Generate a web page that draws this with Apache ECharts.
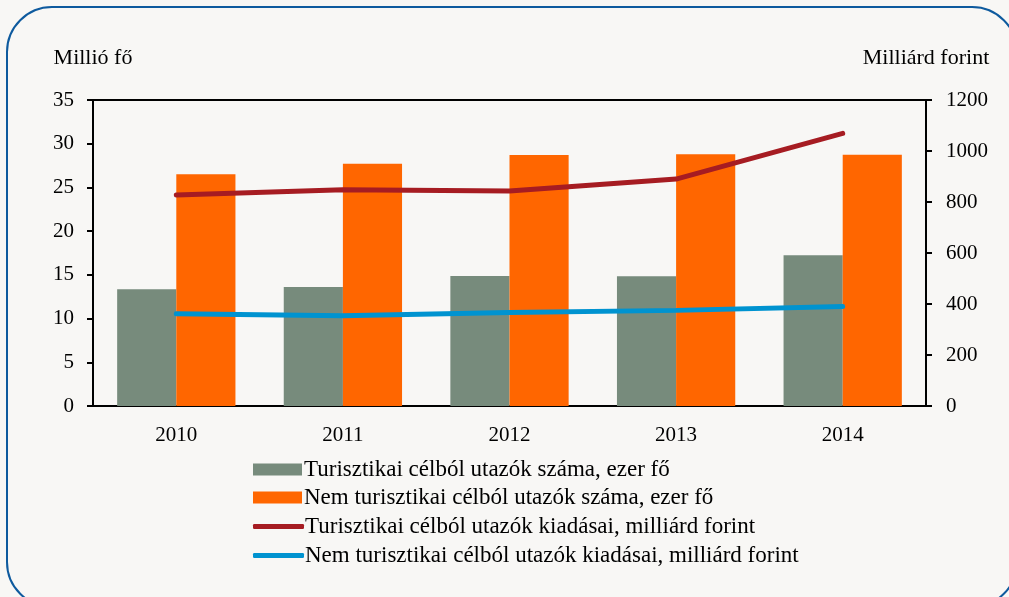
<!DOCTYPE html>
<html><head><meta charset="utf-8">
<script src="https://cdn.jsdelivr.net/npm/echarts@6/dist/echarts.min.js"></script>
<style>html,body{margin:0;padding:0;background:#f8f7f5;}#c{width:1009px;height:597px;}</style>
</head><body><div id="c"></div>
<script>
const categories = ['2010', '2011', '2012', '2013', '2014'];
const turisztikaiSzama = [13.35, 13.6, 14.87, 14.83, 17.24];
const nemTurisztikaiSzama = [26.5, 27.7, 28.7, 28.8, 28.75];
const turisztikaiKiadasai = [827, 848, 843, 890, 1069];
const nemTurisztikaiKiadasai = [362, 354, 367, 375, 390];
const leftTicks = {min: 0, max: 35, interval: 5};
const rightTicks = {min: 0, max: 1200, interval: 200};
const names = ['Turisztikai célból utazók száma, ezer fő', 'Nem turisztikai célból utazók száma, ezer fő', 'Turisztikai célból utazók kiadásai, milliárd forint', 'Nem turisztikai célból utazók kiadásai, milliárd forint'];

const FONT = '"Liberation Serif", "DejaVu Serif", serif';
const chart = echarts.init(document.getElementById('c'));
const axisText = {color: '#000', fontFamily: FONT, fontSize: 21};
chart.setOption({
  backgroundColor: '#f8f7f5',
  animation: false,
  textStyle: {fontFamily: FONT},
  graphic: [{
    type: 'rect', shape: {x: 7, y: 7, width: 1010, height: 600, r: 45},
    style: {fill: 'none', stroke: '#0e5a9e', lineWidth: 2}, z: -1
  }],
  grid: {left: 93, right: 83, top: 100, bottom: 191, show: true, borderColor: '#000', borderWidth: 2, backgroundColor: 'transparent'},
  legend: [{
    orient: 'vertical', left: 248, top: 453, itemWidth: 49, itemHeight: 12, itemGap: 5,
    icon: 'rect', data: [names[0], names[1]],
    textStyle: {color: '#000', fontFamily: FONT, fontSize: 23, lineHeight: 22, padding: [0, 0, 0, -3]}
  }, {
    orient: 'vertical', left: 248, top: 510, itemWidth: 51, itemHeight: 5, itemGap: 6,
    icon: 'roundRect', data: [names[2], names[3]],
    textStyle: {color: '#000', fontFamily: FONT, fontSize: 23, lineHeight: 22, padding: [0, 0, 0, -4]}
  }],
  xAxis: {
    type: 'category', data: categories,
    axisLine: {lineStyle: {color: '#000', width: 2}},
    axisTick: {show: false},
    axisLabel: Object.assign({margin: 19}, axisText)
  },
  yAxis: [{
    type: 'value', min: leftTicks.min, max: leftTicks.max, interval: leftTicks.interval,
    name: 'Millió fő', nameLocation: 'end', nameGap: 31,
    nameTextStyle: Object.assign({align: 'center', fontSize: 22}, axisText, {fontSize: 22}),
    axisLine: {show: true, lineStyle: {color: '#000', width: 2}},
    axisTick: {show: true, length: 6, lineStyle: {color: '#000', width: 2}},
    splitLine: {show: false},
    axisLabel: Object.assign({margin: 19}, axisText)
  }, {
    type: 'value', position: 'right', min: rightTicks.min, max: rightTicks.max, interval: rightTicks.interval,
    name: 'Milliárd forint', nameLocation: 'end', nameGap: 31,
    nameTextStyle: Object.assign({align: 'center'}, axisText, {fontSize: 22}),
    axisLine: {show: true, lineStyle: {color: '#000', width: 2}},
    axisTick: {show: true, length: 6, lineStyle: {color: '#000', width: 2}},
    splitLine: {show: false},
    axisLabel: Object.assign({margin: 20, formatter: v => String(v)}, axisText)
  }],
  series: [{
    name: names[0], type: 'bar', data: turisztikaiSzama, barGap: '0%', barCategoryGap: '29%',
    itemStyle: {color: '#778b7c'}
  }, {
    name: names[1], type: 'bar', data: nemTurisztikaiSzama, barGap: '0%', barCategoryGap: '29%',
    itemStyle: {color: '#ff6600'}
  }, {
    name: names[2], type: 'line', yAxisIndex: 1, data: turisztikaiKiadasai, symbol: 'none',
    lineStyle: {color: '#a61c22', width: 5, cap: 'round'}, itemStyle: {color: '#a61c22'}, z: 5
  }, {
    name: names[3], type: 'line', yAxisIndex: 1, data: nemTurisztikaiKiadasai, symbol: 'none',
    lineStyle: {color: '#0093d0', width: 5, cap: 'round'}, itemStyle: {color: '#0093d0'}, z: 5
  }]
});
</script></body></html>
